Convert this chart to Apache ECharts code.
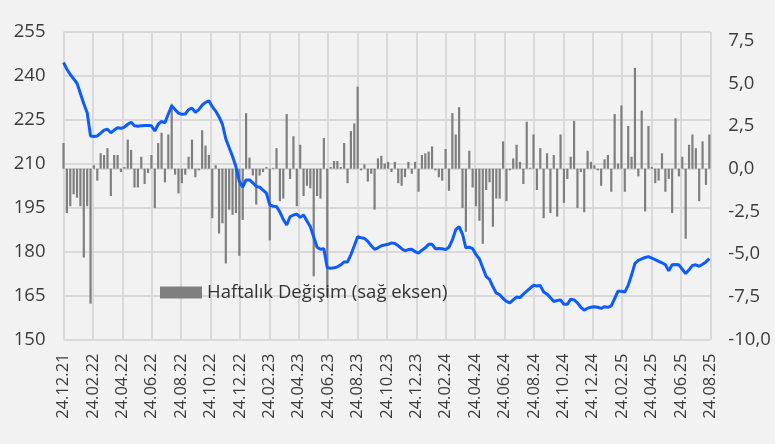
<!DOCTYPE html>
<html>
<head>
<meta charset="utf-8">
<script src="https://cdn.jsdelivr.net/npm/echarts@6/dist/echarts.min.js"></script>
<style>
html, body { margin: 0; padding: 0; background: #f2f2f2; }
#main { width: 775px; height: 444px; }
</style>
</head>
<body>
<div id="main"></div>
<script>
var tickLabels = ['24.12.21', '24.02.22', '24.04.22', '24.06.22', '24.08.22', '24.10.22', '24.12.22',
	'24.02.23', '24.04.23', '24.06.23', '24.08.23', '24.10.23', '24.12.23', '24.02.24', '24.04.24',
	'24.06.24', '24.08.24', '24.10.24', '24.12.24', '24.02.25', '24.04.25', '24.06.25', '24.08.25'];

var startDate = '2021-12-24';
var endDate = '2025-08-24';

// haftalik degisim (%), sag eksen
var weeklyChange = [
	1.5, -2.6, -2.2, -1.5, -1.7, -2.2, -5.2, -2.2, -7.9, 0.2,
	-0.7, 0.9, 0.8, 1.2, -1.6, 0.8, 0.8, -0.2, 0.1, 1.7,
	1.1, -1.1, -1.1, 0.7, -0.9, -0.25, 0.8, -2.3, 1.5, 2.1,
	-0.8, 2.0, 3.8, -0.35, -1.45, -0.85, -0.35, 0.7, 1.7, -0.5,
	-0.1, 2.25, 1.35, 0.8, -2.9, 0.2, -3.8, -3.2, -5.55, -2.4,
	-2.7, -2.6, -5.1, -3.0, 3.25, 0.65, -0.4, -2.1, -0.4, -0.2,
	0.1, -4.2, 0.05, 1.2, -1.9, -1.75, 3.2, -0.6, 1.9, -2.2,
	1.4, -1.6, -1.0, -1.15, -6.3, -1.6, -1.75, 1.8, -7.5, 0.1,
	0.45, 0.45, 0.1, 1.5, -0.85, 2.2, 2.65, 4.8, -0.1, 0.25,
	-0.75, -0.3, -2.4, 0.6, 0.75, 0.3, 0.4, -0.2, 0.4, -0.85,
	-1.0, -0.5, 0.4, -0.3, 0.4, -1.35, 0.8, 0.9, 1.0, 1.3,
	-0.1, -0.5, -0.7, 1.15, -1.3, 3.25, 2.0, 3.6, -2.3, -3.7,
	1.05, -1.1, -2.2, -3.05, -4.4, -1.25, -0.8, -3.4, -1.75, -1.75,
	1.6, -1.9, -0.1, 0.6, 1.4, 0.4, -0.9, 2.75, 0.05, 2.0,
	-1.25, 1.2, -2.9, 0.9, -2.6, 0.8, -2.8, 2.0, -2.0, -0.6,
	0.7, 2.8, -2.3, -0.2, -2.55, 1.05, 0.4, 0.2, -0.1, -1.0,
	0.55, 0.8, -1.35, 3.2, 0.3, 3.7, -1.35, 2.5, 0.7, 5.9,
	-0.45, 3.4, -2.5, 2.5, 0.1, -0.85, -0.7, 0.9, -1.35, -0.6,
	-2.6, 2.95, -0.45, 0.7, -4.1, 1.4, 2.0, 1.2, -1.9, 1.6,
	-0.95, 2.0
];

// seviye, sol eksen
var levelLine = [
	244.6, 242.3, 240.5, 239, 237.5, 234, 230.5, 227.4, 219.5, 219.3,
	219.5, 220.5, 221.5, 221.8, 220.6, 221.5, 222.3, 222.1, 222.5, 223.5,
	224.2, 223, 222.8, 223, 223.1, 223.1, 223, 221.2, 223.5, 224.5,
	224, 227, 229.8, 228.5, 227.3, 226.9, 227, 228.5, 229, 227.6,
	228.5, 230, 231, 231.5, 229.5, 228, 226, 223.5, 218.5, 215.5,
	212.5, 209, 204, 202, 204.5, 204.5, 203.5, 202.3, 202, 201,
	200, 196, 195.5, 195.4, 193.5, 191, 189.1, 191.9, 192.5, 192.8,
	191.7, 192.5, 190.5, 188.5, 185, 181.5, 180.8, 181, 174.5, 174.3,
	174.5, 174.8, 175.5, 176.5, 176.5, 179, 182, 185.1, 184.8, 184.5,
	183.5, 182, 180.8, 181.3, 182, 182.3, 182.5, 183, 182.8, 182,
	181, 180.3, 180.7, 180.8, 180, 179.5, 180.5, 181.3, 182.5, 182.5,
	181, 181.1, 181, 180.7, 181.5, 184, 187.5, 188.5, 186, 181.3,
	181.5, 181, 179, 177.5, 174.5, 171.5, 170.5, 168, 165.8, 165.3,
	164, 163, 162.5, 163.5, 164.5, 164.3, 165.5, 166.5, 167.5, 168.5,
	168.3, 168.4, 166.2, 165.5, 164.3, 163, 163.3, 163.5, 162, 162,
	163.8, 163.5, 162.5, 161, 160, 160.7, 161, 161.2, 161, 160.6,
	161.2, 161, 161.5, 164, 166.5, 166.5, 166.2, 168.5, 172, 176,
	177, 177.5, 178, 178.3, 177.8, 177.3, 176.7, 176.2, 175.5, 173.5,
	175.5, 175.6, 175.5, 174, 172.5, 173.8, 175.3, 175.5, 175, 175.7,
	176.5, 177.6
];

var chart = echarts.init(document.getElementById('main'));

var spanDays = Math.round((Date.parse(endDate) - Date.parse(startDate)) / 86400000);
var step = spanDays / (tickLabels.length - 1);

var barData = weeklyChange.map(function(v, i) { return [i * 7, v]; });
var lineData = levelLine.map(function(v, i) { return [i * 7, v]; });

var font = 'Open Sans';
var textColor = '#3c3c3c';
var gridColor = '#d9d9d9';

var option = {
	animation: false,
	textStyle: { fontFamily: font },
	grid: { left: 63.5, right: 64.7, top: 32, bottom: 104.5, containLabel: false },
	legend: {
		data: ['Haftalık Değişim (sağ eksen)'],
		left: 160, top: 283, padding: 0,
		icon: 'rect', itemWidth: 42, itemHeight: 12, itemGap: 4,
		textStyle: { fontFamily: font, fontSize: 18.5, color: '#333333' }
	},
	xAxis: {
		type: 'value',
		min: 0,
		max: spanDays,
		interval: step,
		axisLine: { show: true, lineStyle: { color: gridColor, width: 2 } },
		axisTick: { show: true, length: 5, lineStyle: { color: gridColor, width: 2 } },
		splitLine: { show: true, lineStyle: { color: gridColor, width: 2 } },
		axisLabel: {
			rotate: 90,
			margin: 14,
			fontFamily: font,
			fontSize: 16.5,
			color: textColor,
			formatter: function(v) {
				var k = Math.round(v / step);
				return tickLabels[k] || '';
			}
		}
	},
	yAxis: [{
		type: 'value',
		min: 150, max: 255, interval: 15,
		axisLine: { show: false },
		axisTick: { show: false },
		splitLine: { show: true, lineStyle: { color: gridColor, width: 2 } },
		axisLabel: { margin: 18, fontFamily: font, fontSize: 18.5, color: textColor }
	}, {
		type: 'value',
		min: -10, max: 8, interval: 2.5,
		axisLine: { show: false },
		axisTick: { show: false },
		splitLine: { show: false },
		axisLabel: {
			margin: 18, fontFamily: font, fontSize: 18.5, color: textColor,
			showMaxLabel: false,
			formatter: function(v) { return v.toFixed(1).replace('.', ','); }
		}
	}],
	series: [{
		name: 'Haftalık Değişim (sağ eksen)',
		type: 'bar',
		yAxisIndex: 1,
		data: barData,
		barWidth: 2.2,
		itemStyle: { color: '#7f7f7f' },
		z: 2
	}, {
		name: 'Seviye',
		type: 'line',
		yAxisIndex: 0,
		data: lineData,
		showSymbol: false,
		symbol: 'none',
		lineStyle: { color: '#0d5cff', width: 3 },
		z: 3
	}]
};

chart.setOption(option);
</script>
</body>
</html>
